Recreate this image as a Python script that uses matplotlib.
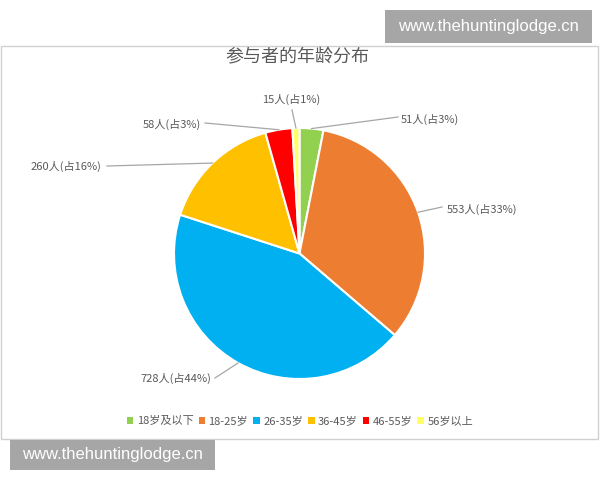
import numpy as np
import matplotlib.pyplot as plt
from matplotlib.patches import Rectangle, Patch

plt.rcParams['font.family'] = ['Noto Sans CJK SC', 'DejaVu Sans']

# data
groups = ['18岁及以下', '18-25岁', '26-35岁', '36-45岁', '46-55岁', '56岁以上']
counts = [51, 553, 728, 260, 58, 15]
colors = ['#92D050', '#ED7D31', '#00B0F0', '#FFC000', '#FF0000', '#FFFF66']
title = '参与者的年龄分布'
site = 'www.thehuntinglodge.cn'

W, H = 600, 480
def py(y):
    # pixel row (from top) -> axis y
    return H - y

fig = plt.figure(figsize=(6, 4.8), dpi=100)
ax = fig.add_axes([0, 0, 1, 1])

cx, cy, r = 299.5, 253.5, 125.5
wedges, _ = ax.pie(counts, colors=colors, startangle=90, counterclock=False,
                   center=(cx, py(cy)), radius=r,
                   wedgeprops=dict(edgecolor='white', linewidth=1.5))
ax.set_xlim(0, W)
ax.set_ylim(0, H)
ax.axis('off')

# chart frame
ax.add_patch(Rectangle((1, py(439)), 597, 393, fill=False, edgecolor='#D0D0D0', lw=1))

ax.text(297, py(57), title, ha='center', va='center', fontsize=13, color='#595959')

# data labels: text x, y, alignment, leader end
label_pos = [
    (401, 119, 'left', (398, 117)),
    (447, 209, 'left', (442, 207)),
    (211, 378, 'right', (215, 378)),
    (101, 166, 'right', (107, 166)),
    (201, 124, 'right', (205, 123)),
    (291, 99, 'center', (292, 110)),
]
total = sum(counts)
for w, n, (tx, ty, ha, (lx, ly)) in zip(wedges, counts, label_pos):
    mid = np.deg2rad((w.theta1 + w.theta2) / 2)
    ex, ey = cx + r * np.cos(mid), py(cy) + r * np.sin(mid)
    ax.plot([lx, ex], [py(ly), ey], color='#A6A6A6', lw=0.9)
    ax.text(tx, py(ty), f'{n}人(占{round(100 * n / total)}%)', ha=ha, va='center',
            fontsize=8, color='#595959')

handles = [Patch(facecolor=c) for c in colors]
fig.legend(handles, groups, loc='center', bbox_to_anchor=(300 / W, 1 - 421 / H),
           ncol=6, frameon=False, fontsize=8, handlelength=0.6, handleheight=0.6,
           handletextpad=0.3, columnspacing=0.45, labelcolor='#595959')

# watermarks
for x0, y0, w_, h_ in [(385, 10, 207, 33), (10, 440, 205, 30)]:
    ax.add_patch(Rectangle((x0, py(y0 + h_)), w_, h_, facecolor='#A6A6A6', edgecolor='none'))
    ax.text(x0 + w_ / 2, py(y0 + h_ / 2), site, ha='center', va='center',
            fontsize=12, color='white', family='Liberation Sans')

fig.savefig('out.png', dpi=100, facecolor='white')
